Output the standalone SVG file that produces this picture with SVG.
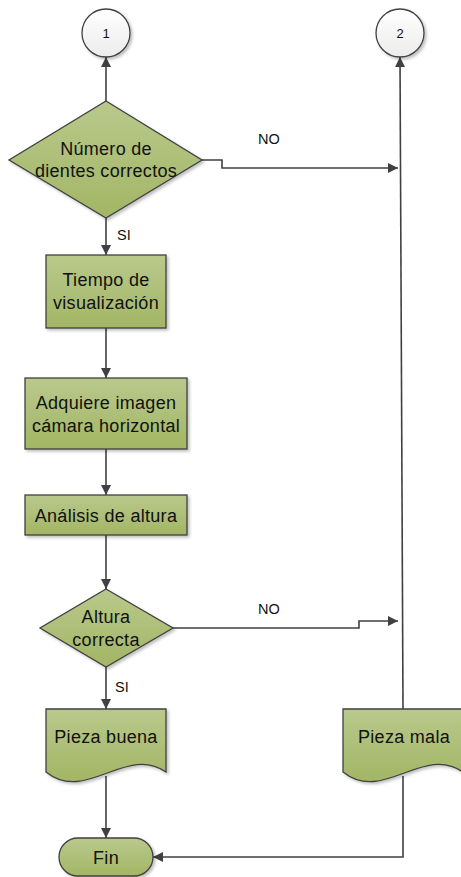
<svg xmlns="http://www.w3.org/2000/svg" width="461" height="877" viewBox="0 0 461 877">
  <defs>
    <linearGradient id="gFill" x1="0" y1="0" x2="0" y2="1">
      <stop offset="0" stop-color="#b9c98c"/>
      <stop offset="1" stop-color="#a2b664"/>
    </linearGradient>
    <linearGradient id="gCircle" x1="0" y1="0" x2="0" y2="1">
      <stop offset="0" stop-color="#ffffff"/>
      <stop offset="1" stop-color="#ececec"/>
    </linearGradient>
    <filter id="shadow" x="-20%" y="-20%" width="150%" height="150%">
      <feGaussianBlur in="SourceAlpha" stdDeviation="1.5"/>
      <feOffset dx="2" dy="2" result="b"/>
      <feComponentTransfer><feFuncA type="linear" slope="0.25"/></feComponentTransfer>
      <feMerge><feMergeNode/><feMergeNode in="SourceGraphic"/></feMerge>
    </filter>
    <marker id="arrow" viewBox="0 0 10 10" refX="10" refY="5" markerWidth="10" markerHeight="10" markerUnits="userSpaceOnUse" orient="auto">
      <path d="M0,0 L10,5 L0,10 Z" fill="#404040"/>
    </marker>
  </defs>
  <style>
    .shape { fill: url(#gFill); stroke: #404040; stroke-width: 1.3; filter: url(#shadow); }
    .circ { fill: url(#gCircle); stroke: #404040; stroke-width: 1.3; filter: url(#shadow); }
    .conn { fill: none; stroke: #404040; stroke-width: 1.6; }
    .arr { marker-end: url(#arrow); }
    .t { font-family: "Liberation Sans", Arial, sans-serif; font-size: 18px; letter-spacing: 0.3px; fill: #111; text-anchor: middle; }
    .lbl { font-family: "Liberation Sans", Arial, sans-serif; font-size: 14.5px; fill: #111; }
    .num { font-family: "Liberation Sans", Arial, sans-serif; font-size: 13px; fill: #111; text-anchor: middle; }
  </style>

  <!-- connectors -->
  <g id="connectors">
    <path class="conn arr" d="M106,101 V57"/>
    <path class="conn arr" d="M202,160 H222 V168 H398"/>
    <path class="conn arr" d="M106,218 V255"/>
    <path class="conn arr" d="M106,328 V378"/>
    <path class="conn arr" d="M106,449 V495"/>
    <path class="conn arr" d="M106,535 V589"/>
    <path class="conn arr" d="M173,628 H359 V621 H398"/>
    <path class="conn arr" d="M106,667 V709"/>
    <path class="conn arr" d="M106,776 V838"/>
    <path class="conn arr" d="M403,709 L400,57"/>
    <path class="conn arr" d="M403,776 V857 H153"/>
    <text class="lbl" x="258" y="144">NO</text>
    <text class="lbl" x="117" y="240">SI</text>
    <text class="lbl" x="258" y="614">NO</text>
    <text class="lbl" x="115" y="692">SI</text>
  </g>

  <g id="connector-1">
    <circle class="circ" cx="106" cy="33" r="24"/>
    <text class="num" x="106" y="38">1</text>
  </g>

  <g id="connector-2">
    <circle class="circ" cx="400" cy="33" r="24"/>
    <text class="num" x="400" y="38">2</text>
  </g>

  <g id="decision-dientes">
    <polygon class="shape" points="106,101 202,160 106,218 9,160"/>
    <text class="t" x="106" y="155">Número de</text>
    <text class="t" x="106" y="177">dientes correctos</text>
  </g>

  <g id="tiempo">
    <rect class="shape" x="46" y="255" width="120" height="73"/>
    <text class="t" x="106" y="286">Tiempo de</text>
    <text class="t" x="106" y="309">visualización</text>
  </g>

  <g id="adquiere">
    <rect class="shape" x="25" y="378" width="162" height="71"/>
    <text class="t" x="106" y="409">Adquiere imagen</text>
    <text class="t" x="106" y="432">cámara horizontal</text>
  </g>

  <g id="analisis">
    <rect class="shape" x="25" y="495" width="162" height="40"/>
    <text class="t" x="106" y="522">Análisis de altura</text>
  </g>

  <g id="decision-altura">
    <polygon class="shape" points="106,589 173,628 106,667 40,628"/>
    <text class="t" x="106" y="623">Altura</text>
    <text class="t" x="106" y="646">correcta</text>
  </g>

  <g id="pieza-buena">
    <path class="shape" d="M46,709 H166 V772 C126,744 86,804 46,772 Z"/>
    <text class="t" x="106" y="743">Pieza buena</text>
  </g>

  <g id="pieza-mala">
    <path class="shape" d="M343,709 H463 V772 C423,744 383,804 343,772 Z"/>
    <text class="t" x="404" y="743">Pieza mala</text>
  </g>

  <g id="fin">
    <rect class="shape" x="59" y="838" width="94" height="38" rx="19" ry="19"/>
    <text class="t" x="106" y="864">Fin</text>
  </g>
</svg>
